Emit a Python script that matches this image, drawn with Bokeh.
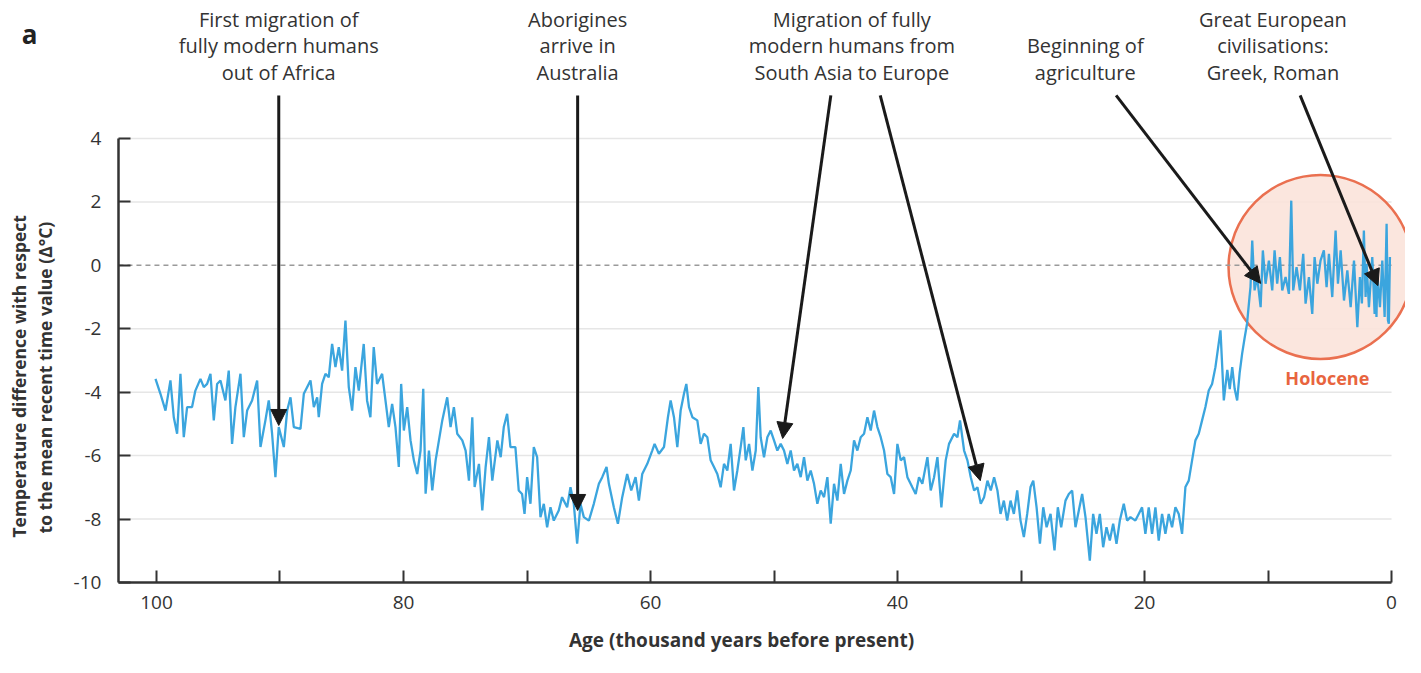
import math
from bokeh.plotting import figure
from bokeh.models import Range1d, FixedTicker, Arrow, NormalHead, ColumnDataSource
from bokeh.embed import file_html
from bokeh.resources import INLINE
from bokeh.core.properties import value

# ---------------- data ----------------
age_kyr = [
    100.08, 99.68, 99.27, 98.87, 98.6, 98.33, 98.06, 97.79, 97.52, 97.12, 96.85, 96.44, 96.17, 95.9, 95.63,
    95.36, 95.09, 94.82, 94.42, 94.15, 93.88, 93.61, 93.2, 92.93, 92.66, 92.26, 91.85, 91.58, 91.18, 90.91,
    90.64, 90.37, 90.1, 89.69, 89.42, 89.15, 88.88, 88.34, 88.07, 87.53,
    87.26, 86.99, 86.86, 86.59, 86.32, 86.05, 85.78, 85.51, 85.24, 84.97, 84.7, 84.43, 84.16, 83.89, 83.62,
    83.22, 82.95, 82.68, 82.41, 82.14, 81.73, 81.46, 81.19, 80.92, 80.65, 80.38, 80.19, 79.97, 79.7, 79.43,
    79.16, 78.89, 78.62, 78.4, 78.21, 77.94, 77.67, 77.4, 77.13, 76.86, 76.46, 76.19, 75.92, 75.65, 75.24,
    74.97, 74.7, 74.43, 74.24, 73.89, 73.62, 73.35, 73.08, 72.81, 72.4, 72.13,
    71.88, 71.61, 71.34, 70.94, 70.67, 70.4, 70.2, 69.99, 69.72, 69.45, 69.18, 68.91, 68.64, 68.37, 68.1,
    67.83, 67.43, 67.16, 66.75, 66.48, 66.21, 65.94, 65.67, 65.4, 64.99, 64.59, 64.18, 63.91, 63.56, 63.37,
    62.97, 62.64, 62.29, 61.89, 61.56, 61.21, 60.94, 60.67, 60.26, 59.86, 59.67, 59.32, 58.91, 58.59, 58.37,
    58.1, 57.83, 57.56, 57.29, 57.1, 56.88, 56.61, 56.21, 55.94, 55.67, 55.4, 55.13, 54.86, 54.59, 54.32,
    54.05, 53.78, 53.51, 53.24, 52.97, 52.7, 52.48, 52.29, 52.02, 51.75, 51.48, 51.27, 51.08, 50.81, 50.54,
    50.27, 50.0, 49.73, 49.46, 49.19, 48.92, 48.65, 48.38, 48.11, 47.84, 47.57, 47.3, 47.03, 46.76, 46.49,
    46.22, 45.95, 45.68, 45.41, 45.14, 44.87, 44.6, 44.33, 44.06, 43.79, 43.52, 43.25, 42.98, 42.71, 42.44,
    42.17, 41.9, 41.63, 41.36, 41.09, 40.82, 40.55, 40.28, 40.01, 39.74, 39.47, 39.2, 38.8, 38.53, 38.26,
    37.99, 37.58, 37.31, 37.04, 36.77, 36.45, 36.1, 35.83, 35.42, 35.15, 34.94, 34.61, 34.34, 34.07, 33.8,
    33.53, 33.26, 32.99, 32.72, 32.45, 32.18, 31.91,
    31.66, 31.39, 31.12, 30.85, 30.58, 30.31, 30.04, 29.77, 29.5, 29.23, 29.01, 28.74, 28.47, 28.2, 27.93,
    27.61, 27.29, 27.02, 26.75, 26.4, 26.13, 25.86, 25.59, 25.32, 25.05, 24.78, 24.43, 24.16, 23.89, 23.62,
    23.35, 23.08, 22.81, 22.54, 22.27, 22.0, 21.68, 21.41, 21.14, 20.74, 20.47, 20.2, 19.93, 19.66, 19.39,
    19.12, 18.85, 18.58, 18.31, 18.04, 17.77, 17.5, 17.23, 16.96, 16.69, 16.42, 16.15, 15.88, 15.61, 15.34,
    15.07, 14.8, 14.53, 14.26,
    13.85, 13.58, 13.3, 13.1, 12.9, 12.7, 12.5, 12.3, 12.1, 11.9, 11.7, 11.5,
    11.42, 11.28, 11.09, 10.88, 10.6, 10.42, 10.2, 9.93, 9.66, 9.47, 9.26, 9.04, 8.85, 8.58, 8.31,
    8.12, 7.96, 7.69, 7.42, 7.15, 6.96, 6.69, 6.42, 6.23, 6.01, 5.75, 5.48, 5.26, 5.07, 4.8,
    4.53, 4.34, 4.12, 3.85, 3.58, 3.31, 3.04, 2.77, 2.56, 2.4, 2.24, 2.1, 2.02, 1.83, 1.56,
    1.37, 1.3, 1.22, 1.15, 0.94, 0.75, 0.56, 0.4, 0.29, 0.22, 0.13,
]
temp_c = [
    -3.58, -4.05, -4.58, -3.63, -4.79, -5.31, -3.42, -5.42, -4.47, -4.47, -3.95, -3.58, -3.84, -3.74, -3.42,
    -4.89, -3.74, -3.63, -4.26, -3.32, -5.63, -4.47, -3.42, -5.42, -4.58, -4.26, -3.63, -5.73, -4.89, -4.26,
    -5.31, -6.68, -5.1, -5.73, -4.58, -4.16, -5.1, -5.16, -4.05, -3.63,
    -4.47, -4.16, -4.79, -3.74, -3.42, -3.53, -2.48, -3.21, -2.58, -3.32, -1.74, -3.84, -4.58, -3.21, -3.95,
    -2.48, -4.26, -4.79, -2.58, -3.74, -3.42, -4.26, -5.1, -4.37, -5.1, -6.36, -3.74, -5.21, -4.47, -5.52,
    -6.15, -6.58, -5.84, -3.89, -7.2, -5.84, -7.1, -6.15, -5.52, -4.89, -4.16, -5.1, -4.47, -5.31, -5.52,
    -5.84, -6.79, -4.79, -6.99, -6.26, -7.73, -6.36, -5.42, -6.79, -5.52, -6.05,
    -5.1, -4.68, -5.73, -5.73, -7.1, -7.21, -7.84, -6.68, -7.52, -5.73, -6.05, -7.94, -7.52, -8.26, -7.63,
    -8.05, -7.73, -7.31, -7.63, -7.0, -7.52, -8.78, -7.52, -7.94, -8.05, -7.52, -6.89, -6.68, -6.36, -6.89,
    -7.63, -8.15, -7.31, -6.58, -7.1, -6.68, -7.42, -6.58, -6.26, -5.84, -5.63, -5.94, -5.73, -4.79, -4.26,
    -4.79, -5.73, -4.58, -4.05, -3.74, -4.47, -4.79, -4.89, -5.63, -5.31, -5.42, -6.15, -6.36, -6.58, -7.0,
    -6.26, -6.47, -5.63, -7.1, -6.47, -5.73, -5.1, -6.15, -5.63, -6.47, -5.84, -3.84, -5.42, -6.05, -5.42,
    -5.21, -5.52, -5.84, -5.63, -5.84, -6.26, -5.84, -6.47, -6.26, -6.68, -6.05, -6.79, -6.47, -6.89, -7.52,
    -7.1, -7.31, -6.68, -8.15, -6.89, -7.42, -6.26, -7.21, -6.79, -6.47, -5.52, -5.84, -5.42, -5.31, -4.79,
    -5.21, -4.58, -5.1, -5.42, -5.84, -6.58, -6.68, -7.21, -5.63, -6.15, -6.05, -6.68, -7.0, -7.21, -6.68,
    -6.89, -6.05, -7.1, -6.68, -6.05, -7.63, -6.15, -5.63, -5.31, -5.42, -4.89, -5.84, -6.15, -6.68, -7.1,
    -7.0, -7.52, -7.31, -6.79, -7.1, -6.68, -7.1,
    -7.84, -7.42, -8.05, -7.42, -7.84, -7.1, -8.05, -8.57, -7.84, -6.99, -6.79, -7.63, -8.78, -7.63, -8.26,
    -7.84, -8.99, -7.63, -8.26, -7.42, -7.21, -7.1, -8.26, -7.73, -7.21, -7.94, -9.31, -7.84, -8.47, -7.84,
    -8.89, -8.26, -8.68, -8.15, -8.78, -8.05, -7.52, -8.05, -7.94, -8.05, -7.84, -7.63, -8.47, -7.63, -8.47,
    -7.63, -8.68, -7.84, -8.47, -7.84, -8.26, -7.63, -7.84, -8.47, -6.99, -6.79, -6.15, -5.52, -5.31, -4.89,
    -4.47, -3.95, -3.74, -3.21,
    -2.05, -4.26, -3.3, -3.9, -3.21, -3.9, -4.26, -3.4, -2.79, -2.3, -1.84, -1.0,
    -0.69, 0.78, -0.79, -0.37, -1.32, 0.47, -0.58, 0.15, -0.79, 0.47, -0.58, 0.26, -0.79, -0.37, -0.9,
    2.04, -0.79, -0.06, -0.79, 0.36, -1.21, -0.37, -1.53, 0.26, -0.58, 0.15, 0.47, -0.69, 0.36, -1.0,
    1.1, -0.58, 0.47, -1.11, -0.16, -1.32, 0.15, -1.95, -0.37, -1.2, 1.1, -1.0, 0.05, -1.32, 0.26,
    -1.53, -0.4, -1.63, -0.27, -1.32, 0.15, -1.63, 1.31, -1.74, -1.84, 0.26,
]

y_ticks = [-10, -8, -6, -4, -2, 0, 2, 4]
y_tick_labels = {-10: "-10", -8: "-8", -6: "-6", -4: "-4", -2: "-2", 0: "0", 2: "2", 4: "4"}
grid_values = [-8, -6, -4, -2, 2, 4]
x_ticks = [0, 10, 20, 30, 40, 50, 60, 70, 80, 90, 100]
x_tick_labels = {0: "0", 10: "", 20: "20", 30: "", 40: "40", 50: "",
                 60: "60", 70: "", 80: "80", 90: "", 100: "100"}

# annotation texts (one entry per line) and their arrows (age kyr, temperature)
note_x = [90.1, 90.1, 90.1, 65.9, 65.9, 65.9, 43.7, 43.7, 43.7, 24.8, 24.8, 9.6, 9.6, 9.6]
note_y = [7.75, 6.92, 6.08, 7.75, 6.92, 6.08, 7.75, 6.92, 6.08, 6.92, 6.08, 7.75, 6.92, 6.08]
note_text = ["First migration of", "fully modern humans", "out of Africa",
             "Aborigines", "arrive in", "Australia",
             "Migration of fully", "modern humans from", "South Asia to Europe",
             "Beginning of", "agriculture",
             "Great European", "civilisations:", "Greek, Roman"]
arrow_x0 = [90.1, 65.9, 45.4, 41.4, 22.3, 7.4]
arrow_y0 = [5.36, 5.36, 5.36, 5.36, 5.36, 5.36]
arrow_x1 = [90.1, 65.9, 49.3, 33.3, 10.6, 1.1]
arrow_y1 = [-5.05, -7.73, -5.46, -6.79, -0.57, -0.64]

holocene_center = (5.75, -0.05)

AXIS_X = 103.08          # age where the vertical axis stands
AXIS_Y = -10.0           # temperature where the horizontal axis stands
X_LEFT, X_RIGHT = 112.63, -1.13
Y_BOTTOM, Y_TOP = -12.367, 8.352

# ---------------- figure ----------------
p = figure(width=1405, height=657, x_range=Range1d(X_LEFT, X_RIGHT), y_range=Range1d(Y_BOTTOM, Y_TOP),
           output_backend="svg", toolbar_location=None, min_border=0,
           min_border_left=0, min_border_right=0, min_border_top=0, min_border_bottom=0)
p.outline_line_color = None
p.background_fill_color = "white"
p.border_fill_color = "white"
p.xgrid.visible = False
p.ygrid.visible = False

AX = "#333333"
for ax in (p.xaxis[0], p.yaxis[0]):
    ax.axis_line_color = AX
    ax.axis_line_width = 2.5
    ax.major_tick_line_color = AX
    ax.major_tick_line_width = 2
    ax.major_tick_in = 12
    ax.major_tick_out = 0
    ax.minor_tick_line_color = None
    ax.major_label_text_font = "Open Sans"
    ax.major_label_text_font_size = "19px"
    ax.major_label_text_color = AX

p.yaxis.fixed_location = AXIS_X
p.yaxis.bounds = (-10, 4)
p.yaxis.ticker = FixedTicker(ticks=y_ticks)
p.yaxis.major_label_overrides = y_tick_labels
p.yaxis.major_label_standoff = 17
p.xaxis.fixed_location = AXIS_Y
p.xaxis.bounds = (0, AXIS_X)
p.xaxis.ticker = FixedTicker(ticks=x_ticks)
p.xaxis.major_label_overrides = x_tick_labels
p.xaxis.major_label_standoff = 14

# grid lines
n = len(grid_values)
p.segment(x0=[AXIS_X] * n, y0=grid_values, x1=[0] * n, y1=grid_values,
          line_color="#e6e6e6", line_width=1.5)

# Holocene circle
p.scatter(x=[holocene_center[0]], y=[holocene_center[1]], size=184, marker="circle",
          fill_color="#fbe3da", fill_alpha=0.9, line_color="#ea7050", line_width=2.5)

# zero dashed line
p.line(x=[AXIS_X, 0], y=[0, 0], line_color="#9a9a9a", line_width=1.5, line_dash="5 4")

# temperature record
p.line(x=age_kyr, y=temp_c, line_color="#3ba5de", line_width=2.3)

# arrows
for x0, y0, x1, y1 in zip(arrow_x0, arrow_y0, arrow_x1, arrow_y1):
    p.add_layout(Arrow(end=NormalHead(size=16, fill_color="#1a1a1a", line_color="#1a1a1a"),
                       x_start=x0, y_start=y0, x_end=x1, y_end=y1,
                       line_width=3, line_color="#1a1a1a"))

# annotation texts
src = ColumnDataSource(dict(x=note_x, y=note_y, text=note_text))
p.text(x="x", y="y", text="text", source=src, text_align="center", text_baseline="middle",
       text_font=value("Open Sans"), text_font_size="20px", text_color="#333333")

p.text(x=[5.2], y=[-3.54], text=["Holocene"], text_align="center", text_baseline="middle",
       text_font=value("Open Sans"), text_font_style="bold", text_font_size="18px",
       text_color="#e8643e")

# panel letter, axis titles
p.text(x=[110.28], y=[7.28], text=["a"], text_align="center", text_baseline="middle",
       text_font=value("Open Sans"), text_font_style="bold", text_font_size="26px",
       text_color="#222222")
p.text(x=[111.1, 109.06], y=[-3.5, -3.54],
       text=["Temperature difference with respect", "to the mean recent time value (\u0394\u00b0C)"],
       angle=math.pi / 2, text_align="center", text_baseline="middle",
       text_font=value("Open Sans"), text_font_style="bold", text_font_size="17.5px",
       text_color="#333333")
p.text(x=[52.63], y=[-11.83], text=["Age (thousand years before present)"],
       text_align="center", text_baseline="middle",
       text_font=value("Open Sans"), text_font_style="bold", text_font_size="19px",
       text_color="#333333")

open("out.html", "w").write(file_html(p, INLINE))
